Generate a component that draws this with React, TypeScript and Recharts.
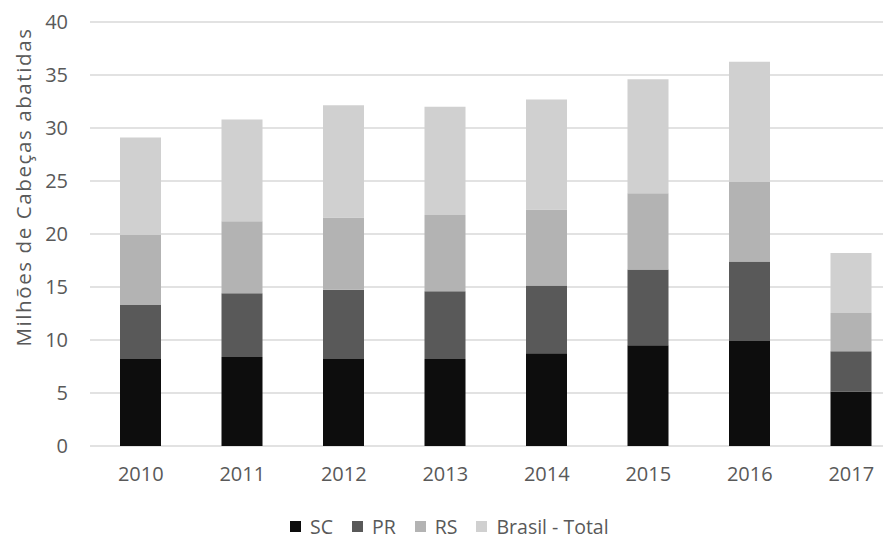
import { BarChart, Bar, XAxis, YAxis, CartesianGrid } from "recharts";

const years = ["2010", "2011", "2012", "2013", "2014", "2015", "2016", "2017"];
const sc = [8.2, 8.4, 8.2, 8.2, 8.75, 9.5, 9.9, 5.15];
const pr = [5.1, 6.0, 6.55, 6.4, 6.4, 7.15, 7.5, 3.8];
const rs = [6.6, 6.8, 6.8, 7.2, 7.15, 7.2, 7.5, 3.6];
const brasil = [9.2, 9.6, 10.6, 10.2, 10.4, 10.75, 11.35, 5.65];
const yTicks = [0, 5, 10, 15, 20, 25, 30, 35, 40];

const series = [
  { key: "sc", name: "SC", color: "#0d0d0d" },
  { key: "pr", name: "PR", color: "#595959" },
  { key: "rs", name: "RS", color: "#b3b3b3" },
  { key: "brasil", name: "Brasil - Total", color: "#d0d0d0" },
];

const data = years.map((year, i) => ({
  year,
  sc: sc[i],
  pr: pr[i],
  rs: rs[i],
  brasil: brasil[i],
}));

const FONT = "'Open Sans', sans-serif";
const TEXT = "#595959";

function YTitle() {
  return (
    <text
      x={15}
      y={179}
      transform="rotate(-90, 15, 179)"
      textAnchor="middle"
      dominantBaseline="central"
      fill={TEXT}
      fontSize={20.5}
      fontFamily={FONT}
      letterSpacing={1.6}
    >
      Milhões de Cabeças abatidas
    </text>
  );
}

function ChartLegend() {
  return (
    <div
      style={{
        position: "absolute",
        top: 505,
        left: 282,
        display: "flex",
        alignItems: "center",
        gap: 19,
        fontFamily: FONT,
        fontSize: 19.5,
        color: TEXT,
      }}
    >
      {series.map((s) => (
        <div key={s.key} style={{ display: "flex", alignItems: "center", gap: 9 }}>
          <div style={{ width: 11, height: 11, backgroundColor: s.color }} />
          <span>{s.name}</span>
        </div>
      ))}
    </div>
  );
}

export default function App() {
  return (
    <div style={{ position: "relative", width: 883, height: 533, overflow: "hidden", background: "#fff" }}>
      <BarChart
        width={900}
        height={533}
        data={data}
        margin={{ top: 14, right: 6, left: 0, bottom: 60 }}
        barCategoryGap={0}
      >
        <CartesianGrid vertical={false} stroke="#d9d9d9" strokeWidth={1.5} />
        <XAxis
          dataKey="year"
          axisLine={false}
          tickLine={false}
          tickSize={0}
          tickMargin={21}
          height={35}
          tick={{ fill: TEXT, fontSize: 20, fontFamily: FONT }}
        />
        <YAxis
          domain={[0, 40]}
          ticks={yTicks}
          axisLine={false}
          tickLine={false}
          tickSize={0}
          tickMargin={22}
          width={82}
          tick={{ fill: TEXT, fontSize: 20, fontFamily: FONT }}
          label={<YTitle />}
        />
        {series.map((s) => (
          <Bar
            key={s.key}
            dataKey={s.key}
            name={s.name}
            stackId="a"
            fill={s.color}
            barSize={41}
            isAnimationActive={false}
          />
        ))}
      </BarChart>
      <ChartLegend />
    </div>
  );
}
